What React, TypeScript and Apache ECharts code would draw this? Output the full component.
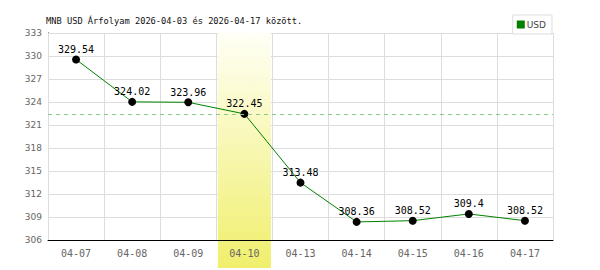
import React, { useEffect, useRef } from "react";
import * as echarts from "echarts";

const categories = ["04-07", "04-08", "04-09", "04-10", "04-13", "04-14", "04-15", "04-16", "04-17"];
const values = [329.54, 324.02, 323.96, 322.45, 313.48, 308.36, 308.52, 309.4, 308.52];
const highlightIndex = 3;
const referenceValue = 322.45;
const yMin = 306;
const yMax = 333;
const yStep = 3;
const titleText = "MNB USD Árfolyam 2026-04-03 és 2026-04-17 között.";
const seriesName = "USD";

export default function App() {
  const ref = useRef<HTMLDivElement>(null);
  useEffect(() => {
    if (!ref.current) return;
    const chart = echarts.init(ref.current, null, { renderer: "svg" });
    const option: any = {
      animation: false,
      backgroundColor: "#ffffff",
      title: {
        text: titleText,
        left: 41,
        top: 11,
        textStyle: { fontFamily: "DejaVu Sans Mono", fontSize: 8.7, fontWeight: "normal", color: "#111" },
      },
      legend: {
        data: [{ name: seriesName, icon: "rect", itemStyle: { color: "#008000" } }],
        right: 48,
        top: 15,
        itemWidth: 8,
        itemHeight: 8,
        itemGap: 2,
        padding: [5, 6, 5, 4],
        borderColor: "#dddddd",
        borderWidth: 1,
        backgroundColor: "#fff",
        textStyle: { fontFamily: "DejaVu Sans", fontSize: 9, color: "#444", padding: [0, 0, 0, -3] },
      },
      grid: { left: 48, right: 47, top: 33, bottom: 30 },
      xAxis: {
        type: "category",
        data: categories,
        boundaryGap: true,
        z: 3,
        axisLine: { lineStyle: { color: "#000", width: 1 } },
        axisTick: { show: false },
        axisLabel: { fontFamily: "DejaVu Sans Mono", fontSize: 10, color: "#666", margin: 8 },
        splitLine: { show: true, lineStyle: { color: "#dddddd", width: 1 } },
      },
      yAxis: {
        type: "value",
        min: yMin,
        max: yMax,
        interval: yStep,
        axisLine: { show: true, lineStyle: { color: "#000", width: 1 } },
        axisTick: { show: false },
        axisLabel: { fontFamily: "DejaVu Sans", fontSize: 9, color: "#666", margin: 6 },
        splitLine: { show: true, lineStyle: { color: "#dddddd", width: 1 } },
      },
      series: [
        {
          name: seriesName,
          type: "line",
          data: values,
          z: 4,
          symbol: "circle",
          symbolSize: 8,
          itemStyle: { color: "#000" },
          lineStyle: { color: "#008000", width: 1 },
          label: {
            show: true,
            position: "top",
            distance: 1,
            fontFamily: "DejaVu Sans Mono",
            fontSize: 10,
            color: "#000",
          },
          markLine: {
            silent: true,
            symbol: ["none", "none"],
            label: { show: false },
            lineStyle: { color: "#88cc88", type: [4, 4], width: 1 },
            data: [{ yAxis: referenceValue }],
          },
        },
      ],
    };
    chart.setOption(option);
    const c0 = chart.convertToPixel({ xAxisIndex: 0 }, highlightIndex) as number;
    const c1 = chart.convertToPixel({ xAxisIndex: 0 }, highlightIndex + 1) as number;
    const catW = c1 - c0;
    const yTop = chart.convertToPixel({ yAxisIndex: 0 }, yMax) as number;
    const yBot = (chart.convertToPixel({ yAxisIndex: 0 }, yMin) as number) + 28;
    const bw = catW - 3;
    chart.setOption({
      graphic: [
        {
          type: "rect",
          z: 1,
          shape: { x: c0 - bw / 2, y: yTop, width: bw, height: yBot - yTop },
          style: {
            fill: new echarts.graphic.LinearGradient(0, 0, 0, 1, [
              { offset: 0, color: "#fffff6" },
              { offset: 1, color: "#f0ef6c" },
            ]),
          },
        },
      ],
    });
    return () => chart.dispose();
  }, []);
  return <div ref={ref} style={{ width: 600, height: 270, position: "absolute", left: 0, top: 0 }} />;
}
